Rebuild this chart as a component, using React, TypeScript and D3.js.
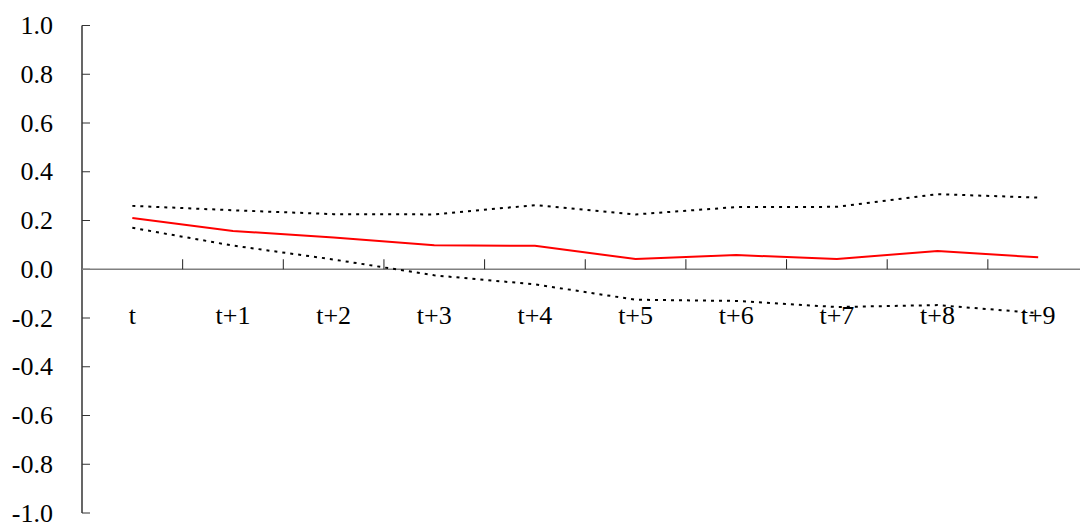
import React from "react";
import * as d3 from "d3";

const categories = ["t", "t+1", "t+2", "t+3", "t+4", "t+5", "t+6", "t+7", "t+8", "t+9"];
const estimate = [0.21, 0.157, 0.13, 0.098, 0.096, 0.042, 0.058, 0.042, 0.075, 0.049];
const upperBand = [0.26, 0.242, 0.226, 0.225, 0.263, 0.225, 0.255, 0.256, 0.308, 0.294];
const lowerBand = [0.17, 0.097, 0.04, -0.025, -0.062, -0.125, -0.13, -0.155, -0.147, -0.18];
const yTicks = [1.0, 0.8, 0.6, 0.4, 0.2, 0.0, -0.2, -0.4, -0.6, -0.8, -1.0];

const W = 1080;
const H = 524;
const AX = 82;
const font = "'Liberation Serif', 'Times New Roman', serif";

export default function App() {
  const x = d3.scaleBand<string>().domain(categories).range([AX, AX + 10 * 100.65]).padding(0);
  const y = d3.scaleLinear().domain([-1, 1]).range([513, 25.5]);
  const cx = (c: string) => (x(c) as number) + x.bandwidth() / 2;
  const line = d3
    .line<number>()
    .x((_, i) => cx(categories[i]))
    .y((d) => y(d));

  return (
    <div style={{ position: "fixed", left: 0, top: 0 }}>
      <svg width={W} height={H} style={{ display: "block", background: "#fff" }}>
        {/* y axis */}
        <line x1={AX} x2={AX} y1={y(1)} y2={y(-1)} stroke="#000" strokeWidth={1.2} />
        {yTicks.map((t) => (
          <g key={t}>
            <line x1={AX} x2={AX + 8} y1={y(t)} y2={y(t)} stroke="#333" strokeWidth={1} />
            <text
              x={53}
              y={y(t)}
              textAnchor="end"
              dominantBaseline="central"
              fontFamily={font}
              fontSize={26}
              fill="#000"
            >
              {t.toFixed(1)}
            </text>
          </g>
        ))}
        {/* x axis at zero */}
        <line x1={AX} x2={W} y1={y(0)} y2={y(0)} stroke="#808080" strokeWidth={1.5} />
        {categories.slice(1).map((c) => (
          <line
            key={c}
            x1={x(c) as number}
            x2={x(c) as number}
            y1={y(0)}
            y2={y(0) - 10}
            stroke="#222"
            strokeWidth={1}
          />
        ))}
        {categories.map((c) => (
          <text
            key={c}
            x={cx(c)}
            y={324}
            textAnchor="middle"
            fontFamily={font}
            fontSize={26}
            fill="#000"
          >
            {c}
          </text>
        ))}
        {/* bands */}
        <path d={line(upperBand) as string} fill="none" stroke="#000" strokeWidth={2} strokeDasharray="3,5" />
        <path d={line(lowerBand) as string} fill="none" stroke="#000" strokeWidth={2} strokeDasharray="3,5" />
        {/* estimate */}
        <path d={line(estimate) as string} fill="none" stroke="#ff0000" strokeWidth={2} />
      </svg>
    </div>
  );
}
